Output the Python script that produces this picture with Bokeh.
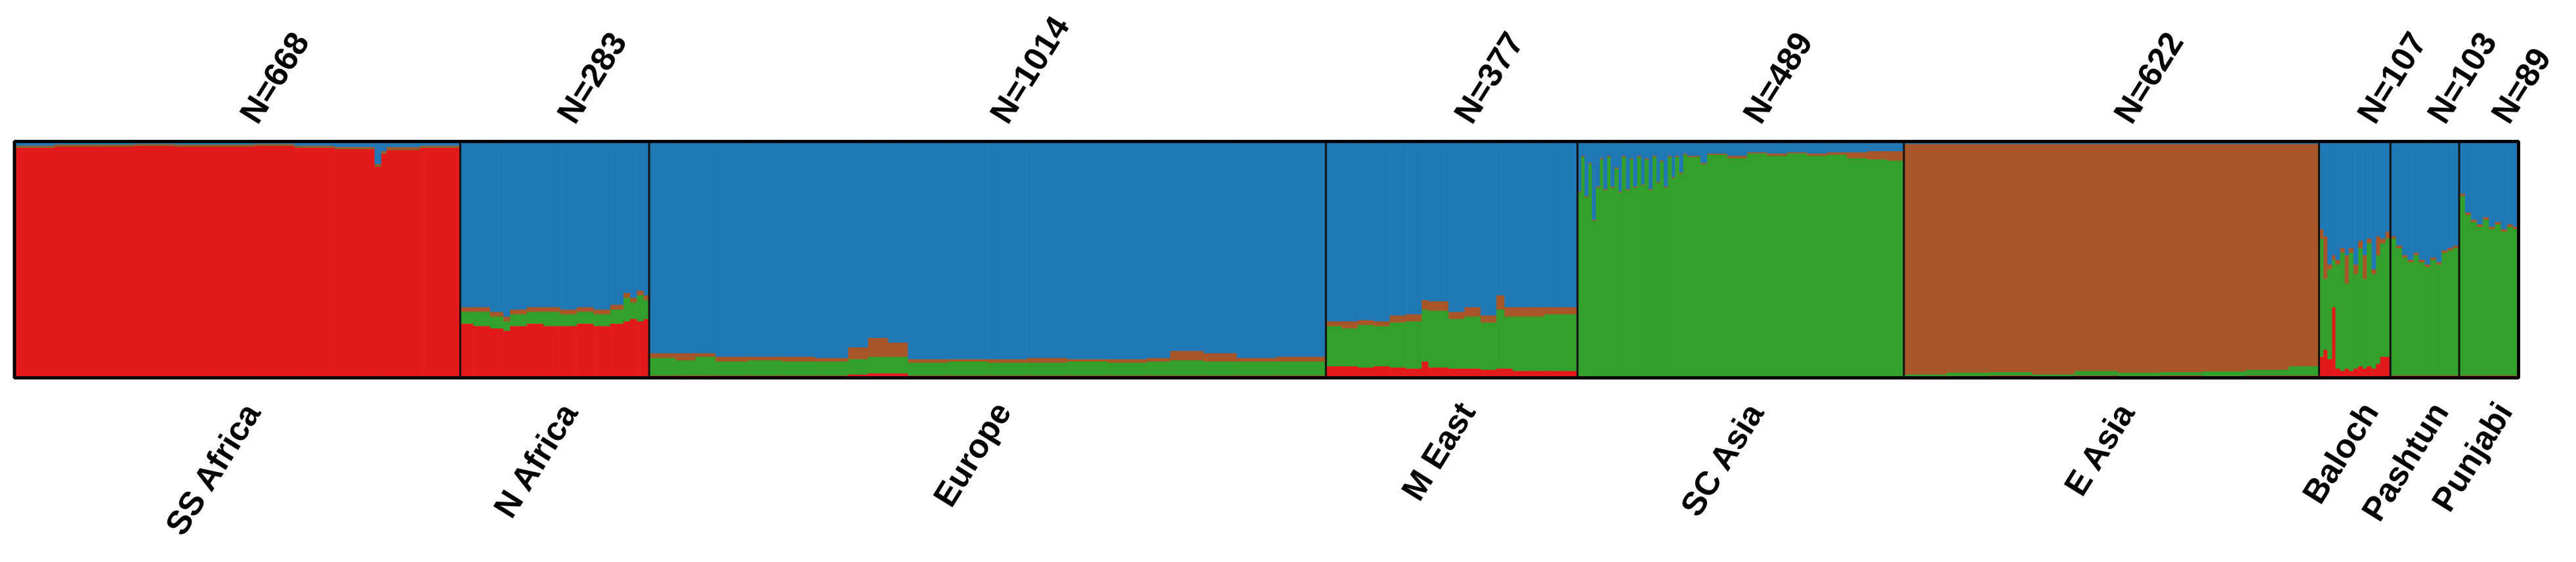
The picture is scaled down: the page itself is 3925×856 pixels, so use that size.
import math
from bokeh.plotting import figure
from bokeh.models import Range1d, ColumnDataSource
from bokeh.core.properties import value
from bokeh.embed import file_html
from bokeh.resources import INLINE

# ---------------- data ----------------
groups = ["SS Africa", "N Africa", "Europe", "M East", "SC Asia", "E Asia",
          "Baloch", "Pashtun", "Punjabi"]
group_n = [668, 283, 1014, 377, 489, 622, 107, 103, 89]
top_labels = ["N=668", "N=283", "N=1014", "N=377", "N=489", "N=622",
              "N=107", "N=103", "N=89"]

# ancestry components, stacked bottom -> top
components = ["red", "green", "brown", "blue"]
colors = ["#E31A1C", "#33A02C", "#A65628", "#1F78B4"]

# per group: rows of (relative width, red, green, brown, blue)
SS_AFRICA = [
    (60, .975, .002, .006, .017),
    (60, .980, .002, .006, .012),
    (60, .980, .002, .006, .012),
    (60, .983, .002, .005, .010),
    (60, .980, .002, .006, .012),
    (60, .980, .002, .006, .012),
    (60, .983, .002, .005, .010),
    (60, .975, .002, .006, .017),
    (60, .970, .002, .006, .022),
    (10, .895, .002, .008, .095),
    (8, .950, .002, .008, .040),
    (50, .965, .002, .010, .023),
    (60, .975, .002, .006, .017),
]
N_AFRICA = [
    (20, .23, .05, .02, .70),
    (25, .22, .06, .02, .70),
    (20, .21, .05, .02, .72),
    (10, .20, .04, .02, .74),
    (25, .22, .05, .02, .71),
    (25, .23, .05, .02, .70),
    (25, .22, .06, .02, .70),
    (25, .22, .05, .02, .71),
    (25, .23, .05, .02, .70),
    (25, .22, .05, .02, .71),
    (20, .23, .06, .02, .69),
    (10, .24, .10, .02, .64),
    (10, .25, .07, .02, .66),
    (10, .24, .11, .02, .63),
    (8, .25, .08, .02, .65),
]
EUROPE = [
    (40, .010, .075, .020, .895),
    (30, .010, .065, .030, .895),
    (30, .010, .080, .015, .895),
    (50, .010, .060, .020, .910),
    (50, .010, .065, .015, .910),
    (50, .010, .060, .020, .910),
    (50, .010, .060, .015, .915),
    (30, .015, .065, .050, .870),
    (30, .020, .070, .080, .830),
    (30, .020, .070, .060, .850),
    (60, .010, .055, .015, .920),
    (60, .010, .060, .010, .920),
    (60, .010, .055, .015, .920),
    (60, .010, .055, .020, .915),
    (60, .010, .060, .010, .920),
    (60, .010, .055, .015, .920),
    (35, .010, .060, .015, .915),
    (50, .010, .065, .040, .885),
    (50, .010, .060, .035, .895),
    (60, .010, .060, .015, .915),
    (74, .010, .060, .020, .910),
]
M_EAST = [
    (24, .050, .170, .020, .760),
    (24, .050, .160, .030, .760),
    (24, .045, .180, .020, .755),
    (24, .050, .170, .020, .760),
    (24, .045, .190, .030, .735),
    (24, .040, .200, .030, .730),
    (10, .070, .220, .040, .670),
    (30, .045, .240, .040, .675),
    (24, .040, .210, .030, .720),
    (24, .040, .220, .040, .700),
    (24, .035, .200, .030, .735),
    (12, .040, .250, .060, .650),
    (12, .040, .220, .040, .700),
    (24, .030, .230, .040, .700),
    (24, .030, .230, .040, .700),
    (24, .030, .240, .030, .700),
    (25, .030, .240, .030, .700),
]
SC_ASIA = [
    (6, .005, .780, .005, .210),
    (5, .005, .930, .005, .060),
    (6, .005, .760, .005, .230),
    (5, .005, .900, .005, .090),
    (6, .005, .660, .005, .330),
    (6, .005, .800, .005, .190),
    (5, .005, .920, .005, .070),
    (6, .005, .790, .005, .200),
    (5, .005, .930, .005, .060),
    (6, .005, .800, .005, .190),
    (6, .005, .880, .005, .110),
    (5, .005, .780, .005, .210),
    (6, .005, .930, .005, .060),
    (6, .005, .790, .005, .200),
    (5, .005, .920, .005, .070),
    (6, .005, .800, .005, .190),
    (6, .005, .930, .005, .060),
    (5, .005, .810, .005, .180),
    (6, .005, .920, .005, .070),
    (6, .005, .790, .005, .200),
    (6, .005, .930, .005, .060),
    (5, .005, .820, .005, .170),
    (6, .005, .910, .005, .080),
    (6, .005, .800, .005, .190),
    (6, .005, .930, .005, .060),
    (5, .005, .840, .005, .150),
    (6, .005, .930, .005, .060),
    (6, .005, .860, .005, .130),
    (6, .005, .940, .005, .050),
    (20, .005, .930, .005, .060),
    (10, .005, .900, .005, .090),
    (30, .005, .940, .005, .050),
    (30, .005, .925, .010, .060),
    (30, .005, .945, .005, .045),
    (30, .005, .935, .010, .050),
    (30, .005, .945, .005, .045),
    (30, .005, .935, .010, .050),
    (30, .005, .940, .010, .045),
    (30, .005, .925, .025, .045),
    (30, .005, .920, .035, .040),
    (25, .005, .915, .040, .040),
]
E_ASIA = [
    (60, .005, .010, .975, .010),
    (60, .008, .015, .967, .010),
    (60, .010, .015, .965, .010),
    (60, .005, .010, .975, .010),
    (60, .010, .020, .960, .010),
    (60, .008, .015, .967, .010),
    (60, .010, .015, .965, .010),
    (60, .008, .020, .962, .010),
    (60, .010, .025, .955, .010),
    (42, .010, .040, .940, .010),
]
BALOCH = [
    (7, .09, .50, .04, .37),
    (6, .12, .30, .18, .40),
    (7, .08, .38, .02, .52),
    (5, .30, .20, .02, .48),
    (7, .04, .44, .02, .50),
    (7, .03, .50, .02, .45),
    (6, .04, .36, .12, .48),
    (7, .03, .50, .02, .45),
    (7, .04, .40, .04, .52),
    (7, .05, .50, .03, .42),
    (6, .04, .38, .10, .48),
    (7, .05, .52, .02, .41),
    (7, .04, .40, .02, .54),
    (6, .06, .46, .08, .40),
    (8, .09, .48, .02, .41),
    (7, .09, .50, .03, .38),
]
PASHTUN = [
    (9, .01, .58, .01, .40),
    (9, .01, .54, .01, .44),
    (8, .01, .50, .01, .48),
    (9, .01, .48, .01, .50),
    (8, .01, .51, .01, .47),
    (9, .01, .48, .01, .50),
    (8, .01, .46, .01, .52),
    (9, .01, .49, .01, .49),
    (8, .01, .47, .01, .51),
    (9, .01, .52, .01, .46),
    (8, .01, .53, .01, .45),
    (9, .01, .54, .01, .44),
]
PUNJABI = [
    (9, .01, .76, .01, .22),
    (9, .01, .68, .01, .30),
    (9, .01, .65, .01, .33),
    (9, .01, .63, .01, .35),
    (9, .01, .66, .01, .32),
    (9, .01, .62, .01, .36),
    (9, .01, .64, .01, .34),
    (9, .01, .61, .01, .37),
    (9, .01, .63, .01, .35),
    (8, .01, .62, .01, .36),
]
group_rows = [SS_AFRICA, N_AFRICA, EUROPE, M_EAST, SC_ASIA, E_ASIA,
              BALOCH, PASHTUN, PUNJABI]

# ---------------- layout (canvas pixels) ----------------
W, H = 3909, 840
BOX_LEFT, BOX_RIGHT = 21.5, 3837.0
BOX_TOP, BOX_BOTTOM = 215.0, 575.0
TOP_LABEL_GAP = 33.0      # baseline start of N= labels above the box
BOTTOM_LABEL_GAP = 42.0   # baseline end of group labels below the box
TOP_LABEL_DX = 16.0
BOTTOM_LABEL_DX = 23.0
ANGLE = math.radians(58)
FONT_SIZE = "51px"

total = sum(group_n)
px_x = (BOX_RIGHT - BOX_LEFT) / total
px_y = BOX_BOTTOM - BOX_TOP
x_range = Range1d(-BOX_LEFT / px_x, (W - BOX_LEFT) / px_x)
y_range = Range1d(-(H - BOX_BOTTOM) / px_y, 1 + BOX_TOP / px_y)

p = figure(width=W, height=H, x_range=x_range, y_range=y_range,
           output_backend="svg", toolbar_location=None, min_border=0,
           x_axis_location=None, y_axis_location=None)
p.grid.visible = False
p.outline_line_color = None
p.background_fill_color = "white"
p.border_fill_color = "white"

# ---------------- stacked bars ----------------
L, R, B, T, C = [], [], [], [], []
start = 0.0
starts, centers = [], []
for n, rows in zip(group_n, group_rows):
    wsum = sum(r[0] for r in rows)
    x0 = start
    for r in rows:
        w = r[0] / wsum * n
        props = list(r[1:])
        s = sum(props)
        props = [v / s for v in props]
        base = 0.0
        for k, v in enumerate(props):
            L.append(x0); R.append(x0 + w)
            B.append(base); T.append(base + v)
            C.append(colors[k])
            base += v
        x0 += w
    starts.append(start)
    centers.append(start + n / 2)
    start += n

src = ColumnDataSource(dict(left=L, right=R, bottom=B, top=T, color=C))
p.quad(left="left", right="right", bottom="bottom", top="top",
       fill_color="color", line_color="color", line_width=0.8, source=src)

# group separators
sep_x = starts[1:]
p.segment(x0=sep_x, y0=[0] * len(sep_x), x1=sep_x, y1=[1] * len(sep_x),
          line_color="#111111", line_width=3)

# outer frame
p.quad(left=[0], right=[total], bottom=[0], top=[1], fill_alpha=0,
       line_color="black", line_width=5)

# ---------------- labels ----------------
top_src = ColumnDataSource(dict(
    x=[c + TOP_LABEL_DX / px_x for c in centers],
    y=[1 + TOP_LABEL_GAP / px_y] * len(centers),
    text=top_labels))
p.text(x="x", y="y", text="text", source=top_src, angle=ANGLE,
       text_align="left", text_baseline="alphabetic",
       text_font=value("Liberation Sans"), text_font_style="bold",
       text_font_size=FONT_SIZE, text_color="black")

bot_src = ColumnDataSource(dict(
    x=[c + BOTTOM_LABEL_DX / px_x for c in centers],
    y=[-BOTTOM_LABEL_GAP / px_y] * len(centers),
    text=groups))
p.text(x="x", y="y", text="text", source=bot_src, angle=ANGLE,
       text_align="right", text_baseline="alphabetic",
       text_font=value("Liberation Sans"), text_font_style="bold",
       text_font_size=FONT_SIZE, text_color="black")

open("out.html", "w").write(file_html(p, INLINE))
